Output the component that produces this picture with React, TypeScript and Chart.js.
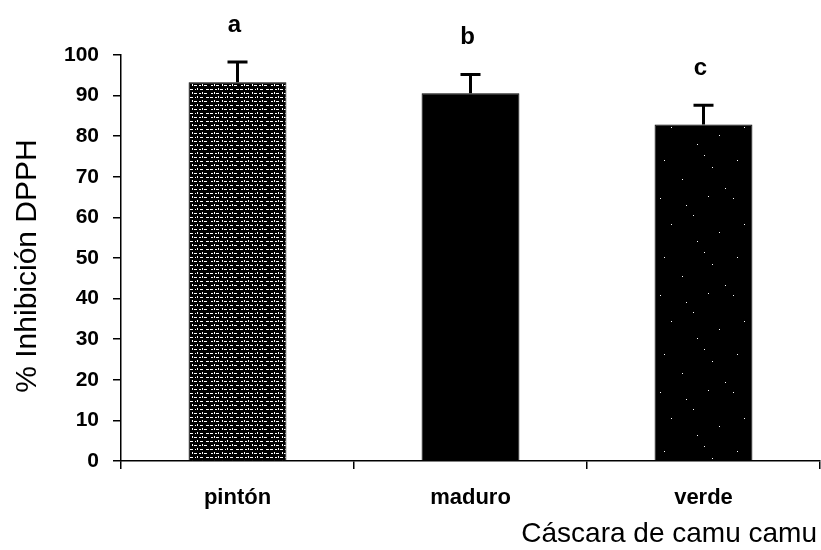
import { useEffect, useRef } from 'react';
import { Chart, registerables } from 'chart.js';

Chart.register(...registerables);

// Radical scavenging (% DPPH inhibition) of camu camu peel by ripeness stage
const categories = ['pintón', 'maduro', 'verde'];
const meanInhibition = [93.3, 90.6, 82.9];
const sdInhibition = [5.0, 4.6, 4.7];
const groupLetters = ['a', 'b', 'c'];
const yMin = 0;
const yMax = 100;
const yStep = 10;

const FONT = '"Liberation Sans", Arial, Helvetica, sans-serif';

// Fixed texture strokes for the "pintón" bar: [x, y, w, h]
const pintonStrokes: number[][] = [
  [0, 1, 3, 1], [5, 1, 2, 1], [8, 0, 1, 2], [10, 1, 3, 1], [15, 1, 1, 1], [17, 0, 1, 2],
  [20, 1, 3, 1], [26, 1, 3, 1],
  [1, 5, 2, 1], [4, 4, 1, 2], [6, 5, 3, 1], [12, 4, 1, 2], [14, 5, 3, 1],
  [19, 5, 2, 1], [22, 4, 1, 2], [24, 5, 3, 1],
];

// Fixed speckles for the "verde" bar: [x, y]
const verdeSpeckles: number[][] = [
  [3, 4], [29, 11], [51, 2], [14, 30], [62, 38], [40, 47], [7, 63], [55, 70], [25, 82], [68, 91],
  [36, 21], [47, 58],
];

function pintonPattern(): CanvasPattern | string {
  const c = document.createElement('canvas');
  c.width = 30;
  c.height = 8;
  const g = c.getContext('2d');
  if (!g) return '#333';
  g.fillStyle = '#000';
  g.fillRect(0, 0, c.width, c.height);
  g.fillStyle = '#fff';
  pintonStrokes.forEach(([x, y, w, h]) => g.fillRect(x, y, w, h));
  return g.createPattern(c, 'repeat') || '#333';
}

function verdePattern(): CanvasPattern | string {
  const c = document.createElement('canvas');
  c.width = 73;
  c.height = 97;
  const g = c.getContext('2d');
  if (!g) return '#000';
  g.fillStyle = '#000';
  g.fillRect(0, 0, c.width, c.height);
  g.fillStyle = '#fff';
  verdeSpeckles.forEach(([x, y]) => g.fillRect(x, y, 1, 1));
  return g.createPattern(c, 'repeat') || '#000';
}

const errorAndLabels = {
  id: 'errorAndLabels',
  afterDatasetsDraw(chart: any) {
    const ctx = chart.ctx as CanvasRenderingContext2D;
    const yScale = chart.scales.y;
    const meta = chart.getDatasetMeta(0);
    ctx.save();
    meta.data.forEach((bar: any, i: number) => {
      const x = bar.x;
      const yTop = yScale.getPixelForValue(meanInhibition[i]);
      const yErr = yScale.getPixelForValue(meanInhibition[i] + sdInhibition[i]);
      ctx.strokeStyle = '#000';
      ctx.lineWidth = 3;
      ctx.beginPath();
      ctx.moveTo(x, yTop);
      ctx.lineTo(x, yErr);
      ctx.moveTo(x - 10, yErr);
      ctx.lineTo(x + 10, yErr);
      ctx.stroke();

      ctx.fillStyle = '#000';
      ctx.font = `bold 24px ${FONT}`;
      ctx.textAlign = 'center';
      ctx.textBaseline = 'alphabetic';
      ctx.fillText(groupLetters[i], x - 3, yErr - 30);
    });

    // axis titles
    ctx.fillStyle = '#000';
    ctx.font = `28px ${FONT}`;
    ctx.textAlign = 'right';
    ctx.textBaseline = 'alphabetic';
    ctx.fillText('Cáscara de camu camu', 817, 542);

    ctx.save();
    ctx.translate(36, (chart.chartArea.top + chart.chartArea.bottom) / 2 + 8);
    ctx.rotate(-Math.PI / 2);
    ctx.font = `30px ${FONT}`;
    ctx.textAlign = 'center';
    ctx.fillText('% Inhibición DPPH', 0, 0);
    ctx.restore();

    ctx.restore();
  },
};

export default function App() {
  const ref = useRef<HTMLCanvasElement | null>(null);

  useEffect(() => {
    if (!ref.current) return;
    const chart = new Chart(ref.current, {
      type: 'bar',
      data: {
        labels: categories,
        datasets: [
          {
            data: meanInhibition,
            backgroundColor: [pintonPattern(), '#000', verdePattern()],
            borderColor: '#000',
            borderWidth: 1,
            barPercentage: 0.42,
            categoryPercentage: 1,
          },
        ],
      },
      options: {
        responsive: false,
        animation: false,
        layout: { padding: { top: 55, right: 1, left: 0, bottom: 0 } },
        plugins: {
          legend: { display: false },
          tooltip: { enabled: false },
        },
        scales: {
          x: {
            afterFit: (s: any) => {
              s.height = 89;
            },
            grid: {
              offset: true,
              drawOnChartArea: false,
              drawTicks: true,
              tickLength: 8,
              color: '#000',
              lineWidth: 1.5,
            },
            border: { display: true, color: '#000', width: 1.5 },
            ticks: {
              color: '#000',
              font: { family: FONT, size: 22, weight: 'bold' },
              padding: 16,
            },
          },
          y: {
            min: yMin,
            max: yMax,
            afterFit: (s: any) => {
              s.width = 121;
            },
            grid: {
              drawOnChartArea: false,
              drawTicks: true,
              tickLength: 8,
              color: '#000',
              lineWidth: 1.5,
            },
            border: { display: true, color: '#000', width: 1.5 },
            ticks: {
              stepSize: yStep,
              color: '#000',
              font: { family: FONT, size: 21, weight: 'bold' },
              padding: 14,
            },
          },
        },
      },
      plugins: [errorAndLabels],
    });
    return () => chart.destroy();
  }, []);

  return (
    <div style={{ position: 'absolute', left: 0, top: 0, width: 821, height: 550, background: '#fff' }}>
      <canvas ref={ref} width={821} height={550} />
    </div>
  );
}
